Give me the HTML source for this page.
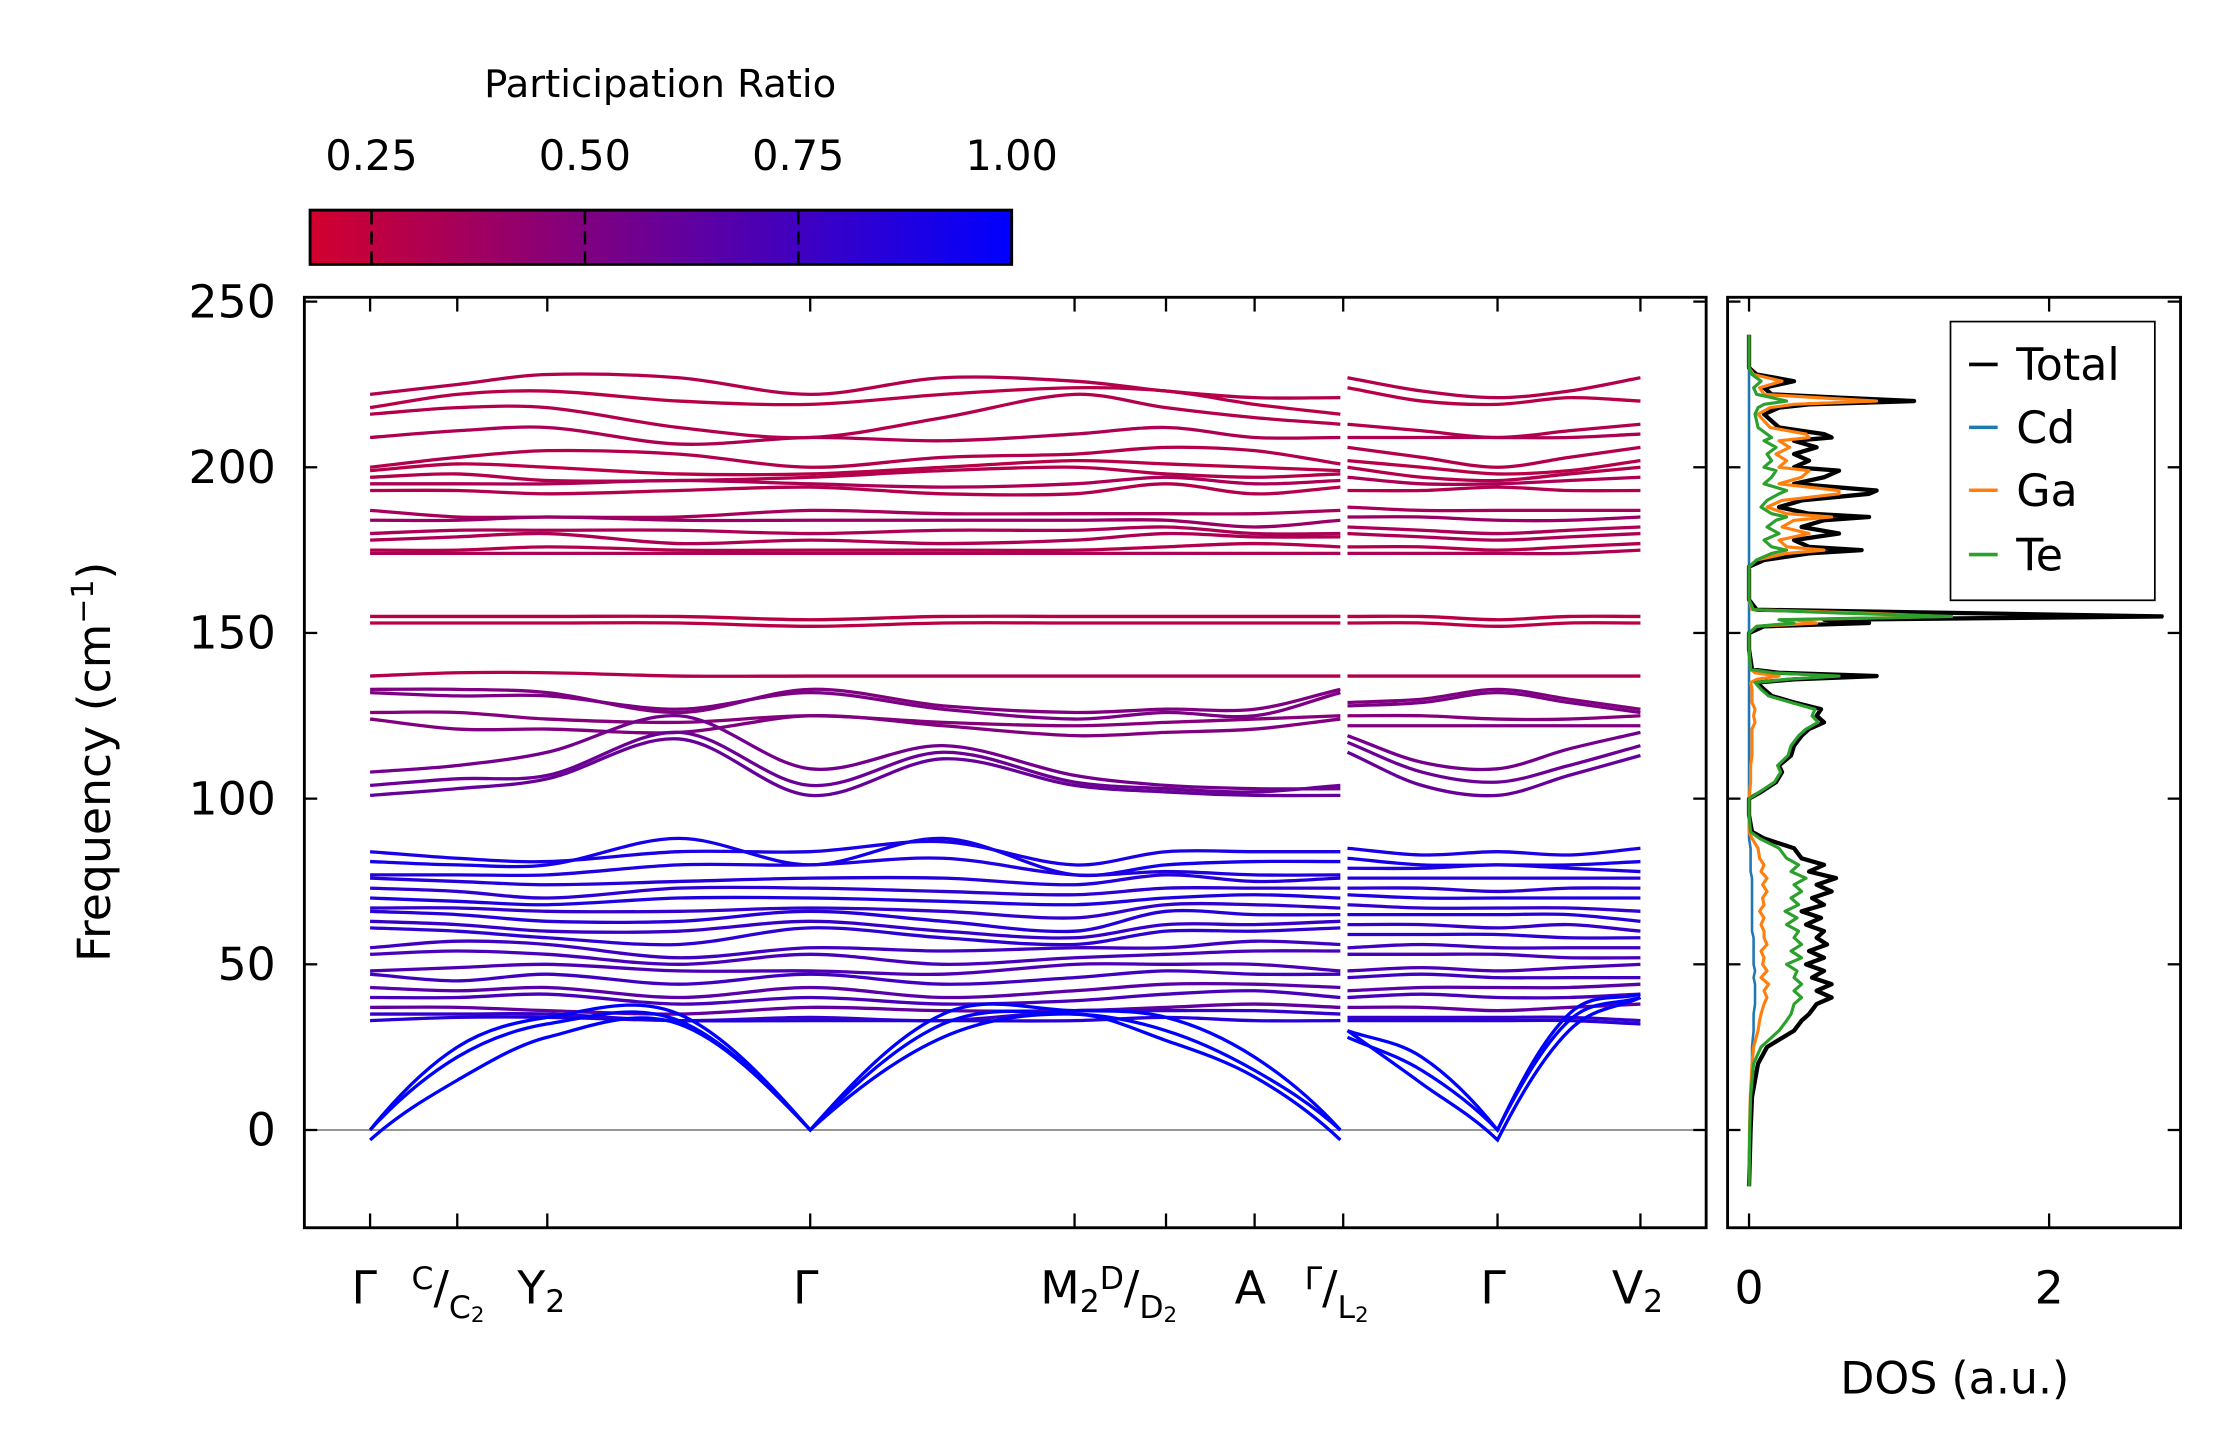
<!DOCTYPE html>
<html><head><meta charset="utf-8"><style>
html,body{margin:0;padding:0;background:#fff;}
svg{display:block;font-family:"DejaVu Sans","Liberation Sans",sans-serif;}
</style></head><body>
<svg id="chart" width="2222" height="1455" viewBox="0 0 1555 1018" preserveAspectRatio="none" xmlns="http://www.w3.org/2000/svg">
<defs><linearGradient id="cmap" x1="0" x2="1" y1="0" y2="0">
<stop offset="0" stop-color="rgb(210,0,46)"/><stop offset="1" stop-color="rgb(0,0,255)"/></linearGradient></defs>
<g id="cbar">
<text x="462" y="68" font-size="27" text-anchor="middle">Participation Ratio</text>
<rect x="217" y="147" width="491" height="38" fill="url(#cmap)" stroke="#000" stroke-width="2"/>
</g>
<g id="bands"></g>
<g id="dos"></g>
<text x="0" y="0" font-size="32" text-anchor="middle" transform="translate(77,533) rotate(-90)">Frequency (cm<tspan font-size="21" dy="-12">−1</tspan><tspan dy="12">)</tspan></text>
<text x="1368" y="975" font-size="31" text-anchor="middle">DOS (a.u.)</text>
</svg>
<script>
const NS="http://www.w3.org/2000/svg";
// ---- data ----
const cbTicks=[0.25,0.5,0.75,1.0];
const cbTickLabels=["0.25","0.50","0.75","1.00"];
const yTicks=[0,50,100,150,200,250];
const kTickLabels=["Γ","C/C2","Y2","Γ","M2D/D2","A","Γ/L2","Γ","V2"];
const seg1K=[0,61,124,216,308,401,493,557,619,679];
const seg2K=[684,736,789,839,889];
const kTicks=[0,61,124,308,493,557,619,681,789,889];
const bandFreqs=[
[222,225,228,227,222,227,226,223,221,221, 227,223,221,223,227],
[218,222,223,220,219,222,224,223,219,216, 224,220,219,221,220],
[216,218,218,212,209,215,222,218,215,213, 213,211,209,211,213],
[209,211,212,207,209,208,210,212,209,209, 209,209,209,209,210],
[200,203,205,204,200,203,204,206,205,201, 206,203,200,203,206],
[199,201,200,198,198,200,202,201,200,199, 202,200,198,199,202],
[197,198,196,196,197,199,200,198,197,198, 200,197,196,198,200],
[195,195,195,196,195,194,195,197,195,196, 197,195,195,196,197],
[193,193,192,193,194,192,192,195,192,194, 193,193,194,193,193],
[187,185,185,185,187,186,186,186,186,187, 188,187,187,187,187],
[184,184,185,184,184,184,184,184,182,184, 185,185,184,184,185],
[180,181,181,181,180,181,181,182,180,180, 182,181,180,181,182],
[178,179,180,177,178,177,178,180,179,179, 180,179,178,179,180],
[175,175,176,175,175,175,175,176,177,176, 176,176,175,176,177],
[174,174,174,174,174,174,174,174,174,174, 174,174,174,174,175],
[155,155,155,155,154,155,155,155,155,155, 155,155,154,155,155],
[153,153,153,153,152,153,153,153,153,153, 153,153,152,153,153],
[137,138,138,137,137,137,137,137,137,137, 137,137,137,137,137],
[133,133,132,126,133,128,126,127,127,133, 129,130,133,130,127],
[132,131,131,127,132,127,124,126,125,132, 128,129,132,129,126],
[126,126,124,123,125,123,122,123,124,125, 125,125,124,124,125],
[124,121,121,120,125,122,119,120,121,124, 122,122,122,122,122],
[108,110,114,125,109,116,107,104,103,103, 119,111,109,115,120],
[104,106,107,120,104,114,105,103,102,104, 117,108,105,110,116],
[101,103,106,118,101,112,104,102,101,101, 114,104,101,107,113],
[84,82,81,84,84,87,80,84,84,84, 85,83,84,83,85],
[81,80,80,88,80,88,77,80,81,81, 82,80,80,80,81],
[77,77,77,80,80,82,77,78,77,77, 79,79,80,79,78],
[76,75,74,75,76,76,74,77,75,76, 76,76,76,76,76],
[73,72,70,73,73,72,71,73,73,73, 73,73,72,73,73],
[70,69,68,70,70,69,68,70,71,70, 71,70,70,70,70],
[67,67,66,66,67,66,64,68,68,67, 68,67,67,67,66],
[66,65,63,63,66,63,60,66,65,65, 65,65,65,65,63],
[63,62,60,60,63,60,58,62,62,63, 62,62,61,62,60],
[61,60,58,56,61,58,56,60,60,61, 59,59,59,58,58],
[55,57,56,52,55,54,55,55,57,56, 55,56,55,55,55],
[53,54,53,50,53,50,52,53,54,54, 53,53,53,52,52],
[48,49,50,48,48,47,50,50,50,48, 48,49,48,49,50],
[47,45,47,44,47,44,46,48,47,47, 46,47,46,46,46],
[43,42,43,40,43,40,42,44,44,43, 42,43,43,43,44],
[40,40,41,38,40,38,39,41,42,40, 40,41,40,40,41],
[37,37,36,35,37,36,36,37,38,37, 37,37,36,37,38],
[35,35,35,33,34,33,36,36,36,35, 34,34,34,34,33],
[33,34,34,33,33,33,33,34,33,33, 33,33,33,33,32],
[0,25,34,35,0,35,36,34,22,0, 30,22,0,35,41],
[0,22,32,33,0,32,35,30,18,0, 28,18,0,33,40],
[-3,15,28,32,0,28,35,27,16,-3, 30,14,-3,30,40]];
const bandRatio=[0.3,0.28,0.3,0.32,0.3,0.28,0.3,0.33,0.3,0.35,0.4,0.33,0.32,0.3,0.32,0.27,0.27,0.3,
0.5,0.52,0.48,0.5,0.55,0.58,0.6,
0.9,0.92,0.88,0.85,0.82,0.88,0.8,0.85,0.78,0.82,0.75,0.72,0.7,0.75,0.65,0.72,0.62,0.8,0.85,1,1,1];
const dosFreq=[-17,0,10,20,25,30,33,35,38,40,42,44,46,48,50,52,54,56,58,60,62,64,66,68,70,72,74,76,78,80,82,85,88,90,95,100,102,105,108,110,113,116,119,121,123,125,127,129,131,133,135,136,137,138,139,145,150,152,153,154,155,156,157,160,170,172,174,175,176,178,180,182,184,185,186,188,190,192,193,195,197,199,200,202,204,206,208,209,210,212,214,216,218,219,220,221,222,224,226,228,230,240];
const dosTotal=[0,0.01,0.02,0.06,0.12,0.3,0.35,0.4,0.45,0.55,0.45,0.55,0.42,0.5,0.38,0.5,0.4,0.52,0.45,0.5,0.38,0.48,0.35,0.5,0.42,0.55,0.45,0.58,0.4,0.5,0.35,0.3,0.1,0.02,0,0,0.08,0.18,0.22,0.2,0.28,0.3,0.35,0.4,0.5,0.45,0.48,0.3,0.15,0.1,0.05,0.3,0.85,0.2,0.02,0,0,0.1,0.8,0.5,2.75,1.4,0.05,0,0,0.1,0.4,0.75,0.4,0.3,0.6,0.35,0.5,0.8,0.4,0.2,0.35,0.8,0.85,0.3,0.5,0.6,0.3,0.4,0.3,0.45,0.3,0.55,0.5,0.2,0.15,0.1,0.2,0.4,1.1,0.6,0.15,0.1,0.3,0.05,0,0];
const dosCd=[0,0.005,0.01,0.02,0.02,0.03,0.03,0.03,0.04,0.04,0.04,0.04,0.03,0.04,0.03,0.03,0.03,0.03,0.03,0.02,0.02,0.02,0.02,0.02,0.02,0.02,0.02,0.02,0.01,0.01,0.01,0.01,0,0,0,0,0,0,0,0,0,0,0,0,0,0,0,0,0,0,0,0,0,0,0,0,0,0,0,0,0,0,0,0,0,0,0,0,0,0,0,0,0,0,0,0,0,0,0,0,0,0,0,0,0,0,0,0,0,0,0,0,0,0,0,0,0,0,0,0,0,0];
const dosGa=[0,0.003,0.008,0.02,0.03,0.06,0.07,0.08,0.1,0.12,0.1,0.13,0.08,0.12,0.09,0.1,0.08,0.12,0.1,0.1,0.08,0.1,0.07,0.1,0.09,0.12,0.09,0.12,0.08,0.1,0.07,0.06,0.02,0,0,0,0.005,0.01,0.01,0.01,0.02,0.02,0.02,0.02,0.04,0.03,0.04,0.02,0.02,0.02,0.01,0.05,0.2,0.04,0.01,0,0,0.05,0.45,0.3,1.3,0.75,0.02,0,0,0.05,0.25,0.5,0.25,0.2,0.4,0.22,0.3,0.55,0.25,0.12,0.22,0.6,0.6,0.2,0.35,0.4,0.2,0.25,0.18,0.27,0.2,0.4,0.38,0.14,0.1,0.06,0.14,0.3,0.85,0.45,0.1,0.07,0.22,0.03,0,0];
const dosTe=[0,0.005,0.01,0.03,0.08,0.2,0.25,0.28,0.3,0.35,0.3,0.35,0.3,0.32,0.25,0.35,0.28,0.35,0.3,0.33,0.25,0.32,0.24,0.33,0.28,0.35,0.3,0.38,0.28,0.33,0.25,0.2,0.07,0.01,0,0,0.07,0.17,0.21,0.19,0.26,0.28,0.33,0.38,0.46,0.42,0.44,0.28,0.13,0.08,0.04,0.25,0.6,0.15,0.01,0,0,0.05,0.3,0.2,1.35,0.6,0.03,0,0,0.05,0.15,0.25,0.15,0.1,0.2,0.12,0.18,0.25,0.15,0.08,0.12,0.2,0.25,0.1,0.15,0.18,0.1,0.15,0.12,0.18,0.1,0.15,0.12,0.06,0.05,0.04,0.06,0.1,0.25,0.15,0.05,0.03,0.08,0.02,0,0];
const dosXTicks=[0,2];
// ---- axes ----
const B={l:213,r:1194,t:208,b:859}, D={l:1209,r:1526,t:208,b:859};
const yMin=-29.5,yMax=251.3;
const yS=f=>B.b-(f-yMin)/(yMax-yMin)*(B.b-B.t);
const kS=k=>259+k*(1148-259)/889;
const dMin=-0.143,dMax=2.876;
const dS=v=>D.l+(v-dMin)/(dMax-dMin)*(D.r-D.l);
const cbS=v=>217+(v-0.178)/(1-0.178)*491;
const cmap=v=>{const t=Math.max(0,Math.min(1,(v-0.178)/0.822));return `rgb(${Math.round(210*(1-t))},0,${Math.round(46+209*t)})`;};
function el(tag,attrs,parent){const e=document.createElementNS(NS,tag);for(const k in attrs)e.setAttribute(k,attrs[k]);parent.appendChild(e);return e;}
// colorbar ticks
const cb=document.getElementById('cbar');
cbTicks.forEach((v,i)=>{
 const t=el('text',{x:cbS(v),y:119,'font-size':29,'text-anchor':'middle'},cb);t.textContent=cbTickLabels[i];
 
 
 if(v<1){const l=el('line',{x1:cbS(v),x2:cbS(v),y1:148,y2:184,stroke:'#000','stroke-width':1.8,'stroke-dasharray':'9,5'},cb);
 
 }
});
// bands
const bg=document.getElementById('bands');
const zl=el('line',{x1:B.l,x2:B.r,y1:yS(0),y2:yS(0),stroke:'#888','stroke-width':1.3},bg);


function crPath(xs,ys,fr){const n=xs.length;
 // tangents; kink (V shape) at zero-frequency Γ points
 const tL=[],tR=[];
 for(let i=0;i<n;i++){
  const a=Math.max(0,i-1),b=Math.min(n-1,i+1);
  const s=(ys[b]-ys[a])/(xs[b]-xs[a]);
  if(fr[i]<=1 && i>0 && i<n-1){tL[i]=(ys[i]-ys[i-1])/(xs[i]-xs[i-1])*1.3;tR[i]=(ys[i+1]-ys[i])/(xs[i+1]-xs[i])*1.3;}
  else if(fr[i]<=1){const sl=i==0?(ys[1]-ys[0])/(xs[1]-xs[0]):(ys[i]-ys[i-1])/(xs[i]-xs[i-1]);tL[i]=tR[i]=sl*1.3;}
  else{tL[i]=tR[i]=s;}
 }
 let d=`M${xs[0].toFixed(1)},${ys[0].toFixed(1)}`;
 for(let i=0;i<n-1;i++){const h=(xs[i+1]-xs[i])/3;
  d+=` C${(xs[i]+h).toFixed(1)},${(ys[i]+tR[i]*h).toFixed(1)} ${(xs[i+1]-h).toFixed(1)},${(ys[i+1]-tL[i+1]*h).toFixed(1)} ${xs[i+1].toFixed(1)},${ys[i+1].toFixed(1)}`;}
 return d;}
bandFreqs.forEach((fr,bi)=>{
 const c=cmap(bandRatio[bi]);
 const f1=fr.slice(0,10),f2=fr.slice(10);
 const p1=el('path',{d:crPath(seg1K.map(kS),f1.map(yS),f1),fill:'none',stroke:c,'stroke-width':2.3},bg);
 
 
 const p2=el('path',{d:crPath(seg2K.map(kS),f2.map(yS),f2),fill:'none',stroke:c,'stroke-width':2.3},bg);
 
 
});
const fr1=el('rect',{x:B.l,y:B.t,width:B.r-B.l,height:B.b-B.t,fill:'none',stroke:'#000','stroke-width':2},bg);


yTicks.forEach(v=>{
 const y=yS(v);
 el('line',{x1:B.l,x2:B.l+9,y1:y,y2:y,stroke:'#000','stroke-width':1.6},bg);
 el('line',{x1:B.r-9,x2:B.r,y1:y,y2:y,stroke:'#000','stroke-width':1.6},bg);
 el('line',{x1:D.l,x2:D.l+9,y1:y,y2:y,stroke:'#000','stroke-width':1.6},bg);
 el('line',{x1:D.r-9,x2:D.r,y1:y,y2:y,stroke:'#000','stroke-width':1.6},bg);
 const t=el('text',{x:B.l-20,y:y+11,'font-size':32,'text-anchor':'end'},bg);t.textContent=v;
 
 
});
kTicks.forEach(k=>{const x=kS(k);
 el('line',{x1:x,x2:x,y1:B.b,y2:B.b-10,stroke:'#000','stroke-width':1.6},bg);
 el('line',{x1:x,x2:x,y1:B.t,y2:B.t+10,stroke:'#000','stroke-width':1.6},bg);});
const xl=el('text',{y:912,'font-size':32},bg);


xl.innerHTML=`<tspan x="246">Γ</tspan><tspan x="288" dy="-10" font-size="22">C</tspan><tspan dy="10">/</tspan><tspan dy="10" font-size="22">C</tspan><tspan dy="3" font-size="15">2</tspan><tspan x="362" dy="-13">Y</tspan><tspan dy="6" font-size="22">2</tspan><tspan x="555" dy="-6">Γ</tspan><tspan x="728">M</tspan><tspan dy="6" font-size="22">2</tspan><tspan dy="-16" font-size="22">D</tspan><tspan dy="10">/</tspan><tspan dy="10" font-size="22">D</tspan><tspan dy="3" font-size="15">2</tspan><tspan x="864" dy="-13">A</tspan><tspan x="913" dy="-10" font-size="22">Γ</tspan><tspan dy="10">/</tspan><tspan dy="10" font-size="22">L</tspan><tspan dy="3" font-size="15">2</tspan><tspan x="1036" dy="-13">Γ</tspan><tspan x="1128">V</tspan><tspan dy="6" font-size="22">2</tspan>`;
// DOS
const dg=document.getElementById('dos');
const series=[[dosCd,'#1f77b4','dos-cd-line',1.8],[dosTotal,'#000','dos-total-line',3],[dosGa,'#ff7f0e','dos-ga-line',2.2],[dosTe,'#2ca02c','dos-te-line',2.2]];
series.forEach(([vals,c,name,w])=>{
 const pts=vals.map((v,i)=>`${dS(v).toFixed(1)},${yS(dosFreq[i]).toFixed(1)}`).join(' ');
 const p=el('polyline',{points:pts,fill:'none',stroke:c,'stroke-width':w,'stroke-linejoin':'round'},dg);
 
 
});
const fr2=el('rect',{x:D.l,y:D.t,width:D.r-D.l,height:D.b-D.t,fill:'none',stroke:'#000','stroke-width':2},dg);


dosXTicks.forEach(v=>{const x=dS(v);
 el('line',{x1:x,x2:x,y1:D.b,y2:D.b-10,stroke:'#000','stroke-width':1.6},dg);
 el('line',{x1:x,x2:x,y1:D.t,y2:D.t+10,stroke:'#000','stroke-width':1.6},dg);
 const t=el('text',{x:x,y:912,'font-size':32,'text-anchor':'middle'},dg);t.textContent=v;
 
 });
const lg=el('g',{},dg);


el('rect',{x:1365,y:225,width:143,height:195,fill:'#fff',stroke:'#000','stroke-width':1.2},lg);
[['Total','#000',255],['Cd','#1f77b4',299],['Ga','#ff7f0e',343],['Te','#2ca02c',388]].forEach(([n,c,y])=>{
 el('line',{x1:1378,x2:1398,y1:y,y2:y,stroke:c,'stroke-width':2.5},lg);
 const t=el('text',{x:1411,y:y+11,'font-size':31},lg);t.textContent=n;
 
 });
</script>
</body></html>
